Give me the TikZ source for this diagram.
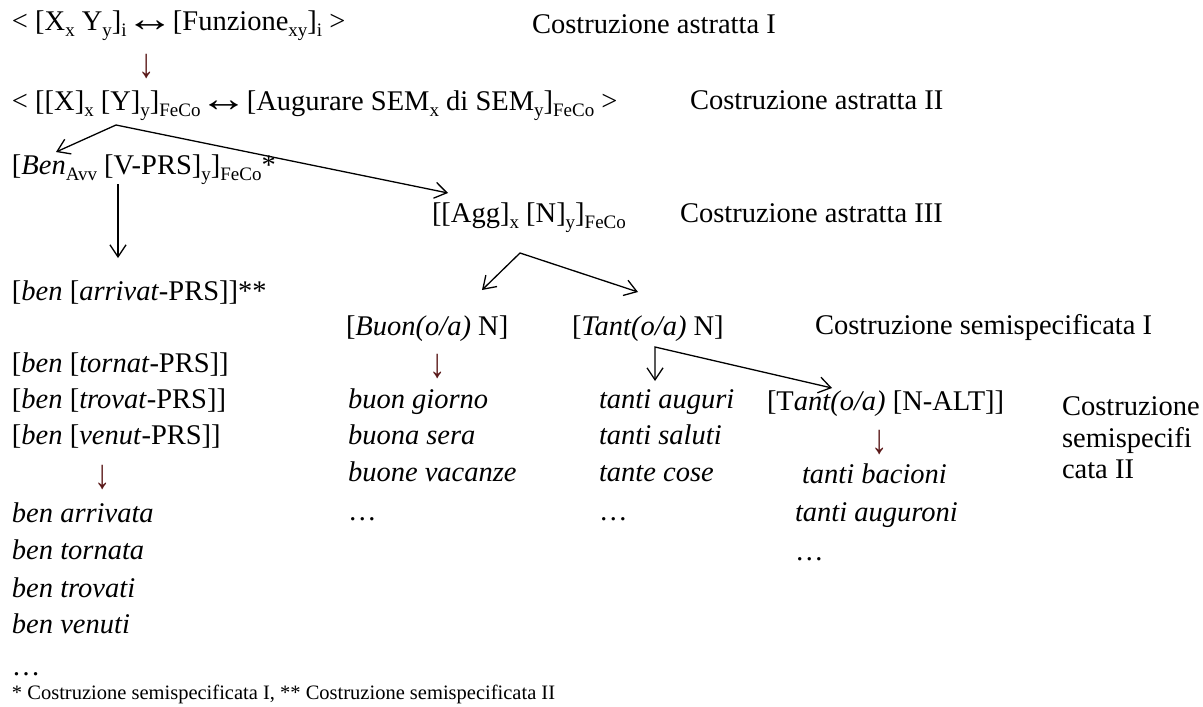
\documentclass[tikz,border=0pt]{standalone}
\usepackage{fontspec}
\usepackage{graphicx}
\setmainfont{Liberation Serif}
\usetikzlibrary{arrows.meta}
\definecolor{arrowred}{RGB}{90,25,25}
% lowered small text for subscripts
\newcommand\lsub[1]{\raisebox{-0.22em}{\fontsize{19}{19}\selectfont #1}}
% stretched double arrow and down arrow glyphs
\newcommand\lrarrow{\hspace{-0.04em}\raisebox{-0.05em}{\scalebox{1.7}[1.3]{↔}}\hspace{-0.04em}}
\newcommand\dnarrow{\scalebox{1.15}[1.45]{↓}}
\begin{document}
\begin{tikzpicture}[x=1pt,y=-1pt,
  txt/.style={anchor=base west,inner sep=0pt,outer sep=0pt},
  darr/.style={anchor=center,inner sep=0pt,text=arrowred},
  arr/.style={line width=1.3pt,{Straight Barb[length=12pt,width=16pt]}-{Straight Barb[length=12pt,width=16pt]}},
  arrend/.style={line width=1.3pt,-{Straight Barb[length=12pt,width=16pt]}},
  font=\fontsize{28.5}{34}\selectfont]
\useasboundingbox[fill=white] (0,0) rectangle (1203,707);

% abstract constructions
\node[txt] (l1) at (12,30) {< [X\lsub{x} Y\lsub{y}]\lsub{i}\lrarrow[Funzione\lsub{xy}]\lsub{i} >};
\node[txt] (lab1) at (532,33) {Costruzione astratta I};
\node[darr] (d1) at (147,67) {\dnarrow};
\node[txt] (l2) at (12,110) {< [[X]\lsub{x} [Y]\lsub{y}]\lsub{FeCo}\lrarrow[Augurare SEM\lsub{x} di SEM\lsub{y}]\lsub{FeCo} >};
\node[txt] (lab2) at (690,109) {Costruzione astratta II};

\node[txt] (ben) at (12,174) {[\textit{Ben}\lsub{Avv} [V-PRS]\lsub{y}]\lsub{FeCo}*};
\node[txt] (agg) at (432,222) {[[Agg]\lsub{x} [N]\lsub{y}]\lsub{FeCo}};
\node[txt] (lab3) at (680,222) {Costruzione astratta III};

% left branch
\node[txt] (arriv) at (12,300) {[\textit{ben} [\textit{arrivat}-PRS]]**};
\node[txt] (tornat) at (12,372) {[\textit{ben} [\textit{tornat}-PRS]]};
\node[txt] (trovat) at (12,408) {[\textit{ben} [\textit{trovat}-PRS]]};
\node[txt] (venut) at (12,444) {[\textit{ben} [\textit{venut}-PRS]]};
\node[darr] (d3) at (103,477) {\dnarrow};
\node[txt] (bA) at (12,522) {\textit{ben arrivata}};
\node[txt] (bT) at (12,559) {\textit{ben tornata}};
\node[txt] (bTr) at (12,597) {\textit{ben trovati}};
\node[txt] (bV) at (12,633) {\textit{ben venuti}};
\node[txt] (bdots) at (12,675) {…};

% right branch
\node[txt] (buon) at (346,335) {[\textit{Buon(o/a)} N]};
\node[txt] (tant) at (572,335) {[\textit{Tant(o/a)} N]};
\node[txt] (lab4) at (815,334) {Costruzione semispecificata I};
\node[darr] (d2) at (438,366) {\dnarrow};
\node[txt] (bg) at (348,408) {\textit{buon giorno}};
\node[txt] (bs) at (348,444) {\textit{buona sera}};
\node[txt] (bv) at (348,481) {\textit{buone vacanze}};
\node[txt] (bgdots) at (348,520) {…};
\node[txt] (ta) at (599,408) {\textit{tanti auguri}};
\node[txt] (ts) at (599,444) {\textit{tanti saluti}};
\node[txt] (tc) at (599,481) {\textit{tante cose}};
\node[txt] (tdots) at (599,520) {…};
\node[txt] (talt) at (767,410) {[T\textit{ant(o/a)} [N-ALT]]};
\node[darr] (d4) at (880,442) {\dnarrow};
\node[txt] (tb) at (802,483) {\textit{tanti bacioni}};
\node[txt] (tau) at (795,521) {\textit{tanti auguroni}};
\node[txt] (taudots) at (795,560) {…};
\node[txt] (lab5a) at (1062,415) {Costruzione};
\node[txt] (lab5b) at (1062,447) {semispecifi};
\node[txt] (lab5c) at (1062,478) {cata II};

% footnote
\node[txt,font=\fontsize{20.5}{24}\selectfont] (foot) at (12,699) {* Costruzione semispecificata I, ** Costruzione semispecificata II};

% branching points
\coordinate (f1) at (116,125);
\coordinate (f1l) at (56,152);
\coordinate (f1r) at (448,193);
\coordinate (v1a) at (118,184);
\coordinate (v1b) at (118,258);
\coordinate (f2) at (520,253);
\coordinate (f2l) at (482,290);
\coordinate (f2r) at (638,292);
\coordinate (f3) at (655,347);
\coordinate (f3d) at (655,381);
\coordinate (f3r) at (832,388);

\draw[arr] (f1l) -- (f1) -- (f1r);
\draw[arrend] (v1a) -- (v1b);
\draw[arr] (f2l) -- (f2) -- (f2r);
\draw[arr] (f3d) -- (f3) -- (f3r);
\end{tikzpicture}
\end{document}
